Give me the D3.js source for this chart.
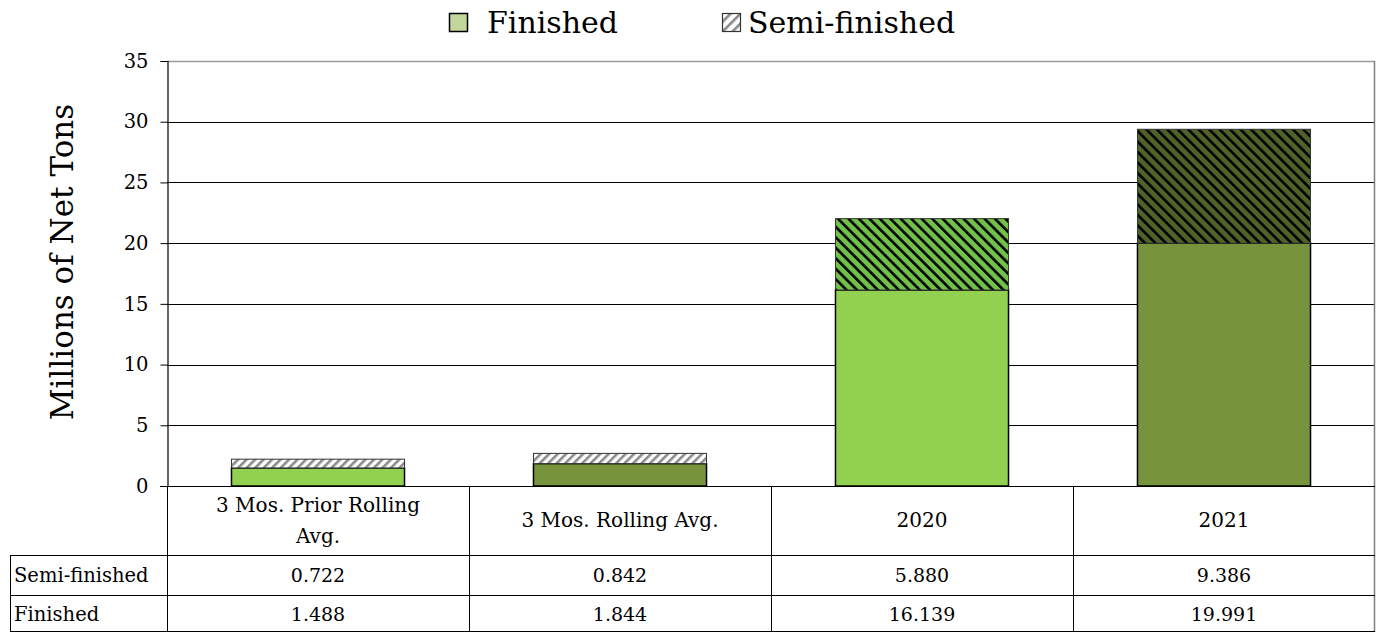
<!DOCTYPE html>
<html>
<head>
<meta charset="utf-8">
<script src="https://cdn.jsdelivr.net/npm/d3@7"></script>
<style>
  html, body { margin: 0; padding: 0; background: #fff; }
  svg { display: block; }
  text { font-family: "DejaVu Serif", serif; fill: #000; }
</style>
</head>
<body>
<svg id="chart" width="1379" height="632"></svg>
<script>
// ---- data ----
const categories = ["3 Mos. Prior Rolling Avg.", "3 Mos. Rolling Avg.", "2020", "2021"];
const seriesNames = ["Semi-finished", "Finished"];
const semiFinished = [0.722, 0.842, 5.880, 9.386];
const finished = [1.488, 1.844, 16.139, 19.991];
const yTicks = [0, 5, 10, 15, 20, 25, 30, 35];

// ---- styles ----
const finishedColors = ["#92D050", "#77933C", "#92D050", "#77933C"];
const semiPatterns = ["stripeGray", "stripeGray", "stripeLight", "stripeDark"];

const svg = d3.select("#chart");
const W = 1379, H = 632;
const m = { left: 167, right: 1375, top: 61, bottom: 486 };

const defs = svg.append("defs");
function stripe(id, bg, fg, size, sw, angle) {
  const p = defs.append("pattern").attr("id", id)
    .attr("patternUnits", "userSpaceOnUse")
    .attr("width", size).attr("height", size)
    .attr("patternTransform", `rotate(${angle})`);
  p.append("rect").attr("width", size).attr("height", size).attr("fill", bg);
  p.append("rect").attr("width", sw).attr("height", size).attr("fill", fg);
}
stripe("stripeGray", "#ffffff", "#8a8a8a", 6, 2.6, 45);
stripe("stripeLight", "#70C04A", "#000000", 7.4, 2.6, -45);
stripe("stripeDark", "#4F6228", "#000000", 7.4, 2.6, -45);
stripe("stripeLegend", "#ffffff", "#8a8a8a", 7, 2.6, 45);

const x = d3.scaleBand().domain(categories).range([m.left, m.right]).padding(0);
const y = d3.scaleLinear().domain([0, 35]).range([m.bottom, m.top]);
const barW = x.bandwidth() * 0.573;

// gridlines
svg.append("g").selectAll("line").data(yTicks.filter(t => t > 0 && t < 35)).join("line")
  .attr("x1", m.left).attr("x2", m.right)
  .attr("y1", d => Math.round(y(d)) + 0.5).attr("y2", d => Math.round(y(d)) + 0.5)
  .attr("stroke", "#000").attr("stroke-width", 1);

// plot border (top/right gray)
svg.append("line").attr("x1", m.left).attr("x2", m.right).attr("y1", m.top + 0.5).attr("y2", m.top + 0.5)
  .attr("stroke", "#9a9a9a").attr("stroke-width", 1.5);
svg.append("line").attr("x1", m.right - 0.5).attr("x2", m.right - 0.5).attr("y1", m.top).attr("y2", H)
  .attr("stroke", "#7f7f7f").attr("stroke-width", 1.5);

// y axis
const yAxis = d3.axisLeft(y).tickValues(yTicks).tickSize(7).tickPadding(12).tickFormat(d3.format("d"));
const gy = svg.append("g").attr("transform", `translate(${m.left + 0.5},0)`).call(yAxis);
gy.select(".domain").attr("stroke", "#000").attr("stroke-width", 1.2);
gy.selectAll(".tick line").attr("stroke", "#000");
gy.selectAll(".tick text").attr("font-family", "DejaVu Serif").attr("font-size", 19.5).attr("fill", "#000");

// bars
const rows = categories.map((c, i) => ({ cat: c, fin: finished[i], semi: semiFinished[i], i }));
const gb = svg.append("g");
gb.selectAll("rect.fin").data(rows).join("rect").attr("class", "fin")
  .attr("x", d => x(d.cat) + (x.bandwidth() - barW) / 2)
  .attr("width", barW)
  .attr("y", d => y(d.fin))
  .attr("height", d => y(0) - y(d.fin))
  .attr("fill", d => finishedColors[d.i])
  .attr("stroke", "#000").attr("stroke-width", 1.5);
gb.selectAll("rect.semi").data(rows).join("rect").attr("class", "semi")
  .attr("x", d => x(d.cat) + (x.bandwidth() - barW) / 2)
  .attr("width", barW)
  .attr("y", d => y(d.fin + d.semi))
  .attr("height", d => y(d.fin) - y(d.fin + d.semi))
  .attr("fill", d => `url(#${semiPatterns[d.i]})`)
  .attr("stroke", "#333").attr("stroke-width", 1);

// x axis baseline
svg.append("line").attr("x1", m.left - 7).attr("x2", m.right).attr("y1", m.bottom + 0.5).attr("y2", m.bottom + 0.5)
  .attr("stroke", "#000").attr("stroke-width", 1.2);

// data table
const rowTop = 555.5, rowMid = 595.5;
const tbl = svg.append("g").attr("stroke", "#000").attr("stroke-width", 1);
const colEdges = categories.map(c => x(c)).concat([m.right]);
tbl.selectAll("line.v").data(colEdges.slice(0, -1)).join("line")
  .attr("x1", d => Math.round(d) + 0.5).attr("x2", d => Math.round(d) + 0.5)
  .attr("y1", m.bottom).attr("y2", H);
tbl.append("line").attr("x1", 10.5).attr("x2", 10.5).attr("y1", rowTop).attr("y2", H);
tbl.append("line").attr("x1", 10).attr("x2", m.right).attr("y1", rowTop).attr("y2", rowTop);
tbl.append("line").attr("x1", 10).attr("x2", m.right).attr("y1", rowMid).attr("y2", rowMid);
tbl.append("line").attr("x1", 10).attr("x2", m.right).attr("y1", H - 0.5).attr("y2", H - 0.5);

// category labels (wrapped)
const catFont = 20;
const catG = svg.append("g");
categories.forEach(c => {
  const t = catG.append("text").attr("x", x(c) + x.bandwidth() / 2).attr("text-anchor", "middle")
    .attr("font-size", catFont);
  const words = c.split(" ");
  const lines = [];
  let cur = [];
  const probe = catG.append("text").attr("font-size", catFont);
  words.forEach(w => {
    const test = cur.concat([w]).join(" ");
    probe.text(test);
    if (probe.node().getComputedTextLength() > 240 && cur.length) { lines.push(cur.join(" ")); cur = [w]; }
    else cur.push(w);
  });
  lines.push(cur.join(" "));
  probe.remove();
  const lh = 31, mid = 521;
  const start = mid - (lines.length - 1) * lh / 2 + 6;
  lines.forEach((ln, k) => t.append("tspan").attr("x", x(c) + x.bandwidth() / 2).attr("y", start + k * lh).text(ln));
});

// table rows
const tableRows = [{ name: seriesNames[0], vals: semiFinished, yb: 582 }, { name: seriesNames[1], vals: finished, yb: 621 }];
tableRows.forEach(r => {
  svg.append("text").attr("x", 14).attr("y", r.yb).attr("font-size", 19.5).text(r.name);
  svg.append("g").selectAll("text").data(r.vals).join("text")
    .attr("x", (d, i) => x(categories[i]) + x.bandwidth() / 2)
    .attr("y", r.yb).attr("text-anchor", "middle").attr("font-size", 19)
    .text(d => d3.format(".3f")(d));
});

// y title
svg.append("text").attr("transform", "translate(73,262) rotate(-90)")
  .attr("text-anchor", "middle").attr("font-size", 31).text("Millions of Net Tons");

// legend
const lg = svg.append("g");
lg.append("rect").attr("x", 449.5).attr("y", 13.5).attr("width", 18).attr("height", 18)
  .attr("fill", "#C4D79B").attr("stroke", "#000").attr("stroke-width", 1.5);
lg.append("text").attr("x", 487).attr("y", 33).attr("font-size", 30).text(seriesNames[1]);
lg.append("rect").attr("x", 722.5).attr("y", 13.5).attr("width", 18).attr("height", 18)
  .attr("fill", "url(#stripeLegend)").attr("stroke", "#333").attr("stroke-width", 1.2);
lg.append("text").attr("x", 748).attr("y", 33).attr("font-size", 30).text(seriesNames[0]);
</script>
</body>
</html>
